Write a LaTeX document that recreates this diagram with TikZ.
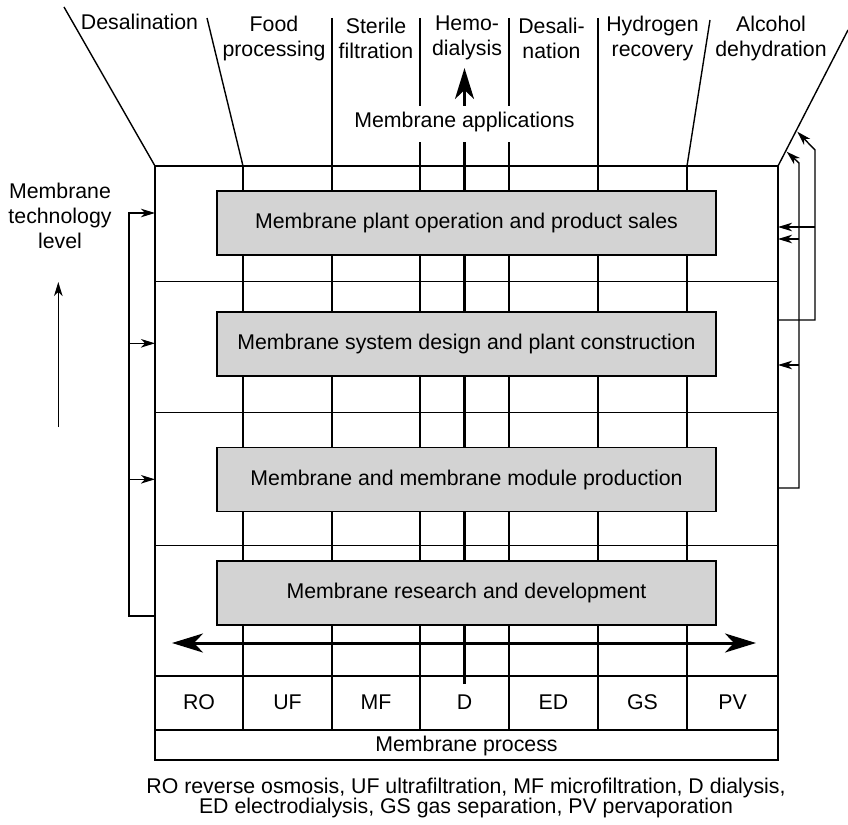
\documentclass[tikz,border=0pt]{standalone}
\usepackage{fontspec}
\setmainfont{Liberation Sans}
\usetikzlibrary{arrows.meta}
\definecolor{boxgray}{RGB}{211,211,211}
\tikzset{
  thinl/.style={line width=1.4pt},
  thickl/.style={line width=3pt},
  bighead/.tip={Stealth[length=31pt,width=19pt,inset=9pt]},
  smallhead/.tip={Stealth[length=14pt,width=8.5pt,inset=4pt]},
  lbl/.style={inner sep=0pt, align=center, font=\fontsize{21.3}{25}\selectfont},
  box/.style={lbl, draw, line width=1.4pt, fill=boxgray, minimum width=499pt, minimum height=64pt},
}
\begin{document}
\begin{tikzpicture}[x=1pt,y=-1pt]
\useasboundingbox (0,0) rectangle (848,824);
% named corner points
\coordinate (ftl) at (155,166);
\coordinate (fbr) at (778,760);
% frame and grid
\draw[thinl] (ftl) rectangle (fbr);
\foreach \y in {281.5,412.3,545.7,676,730} \draw[thinl] (155,\y) -- (778,\y);
\foreach \x in {243,332,598,687} \draw[thinl] (\x,166) -- (\x,730);
\foreach \x in {420,509} \draw[thinl] (\x,142) -- (\x,730);
% lines above the frame
\draw[thinl] (64,7) -- (155,166);
\draw[thinl] (207,18) -- (243,166);
\draw[thinl] (332,18) -- (332,166);
\draw[thinl] (420,18) -- (420,106);
\draw[thinl] (509,18) -- (509,106);
\draw[thinl] (598,18) -- (598,166);
\draw[thinl] (710,20) -- (687,166);
\draw[thinl] (848,30) -- (778,166);
% central axis (membrane applications)
\draw[thickl] (464.5,684) -- (464.5,142);
\draw[thickl,-bighead] (464.5,106) -- (464.5,68);
% boxes
\node[box] (b1) at (466.5,222.8) {Membrane plant operation and product sales};
\node[box] (b2) at (466.5,343.8) {Membrane system design and plant construction};
\node[box] (b3) at (466.5,479.5) {Membrane and membrane module production};
\node[box] (b4) at (466.5,592.8) {Membrane research and development};
% membrane process axis
\coordinate (pl) at (172,643);
\coordinate (pr) at (756,643);
\draw[thickl,bighead-bighead] (pl) -- (pr);
% top labels
\node[lbl] (t1) at (139.5,22) {Desalination};
\node[lbl] (t2) at (274,38) {Food\\processing};
\node[lbl] (t3) at (376,38) {Sterile\\filtration};
\node[lbl] (t4) at (467,38) {Hemo-\\dialysis};
\node[lbl] (t5) at (551.5,38) {Desali-\\nation};
\node[lbl] (t6) at (652.5,38) {Hydrogen\\recovery};
\node[lbl] (t7) at (771,38) {Alcohol\\dehydration};
\node[lbl] (ma) at (464.5,122) {Membrane applications};
% process labels
\node[lbl] (ro) at (199,702) {RO};
\node[lbl] (uf) at (287.5,702) {UF};
\node[lbl] (mf) at (376,702) {MF};
\node[lbl] (d)  at (464.5,702) {D};
\node[lbl] (ed) at (553.5,702) {ED};
\node[lbl] (gs) at (642.5,702) {GS};
\node[lbl] (pv) at (732.5,702) {PV};
\node[lbl] (mp) at (466.5,746) {Membrane process};
\node[lbl, font=\fontsize{21.3}{20}\selectfont] (cap) at (466,798)
  {RO reverse osmosis, UF ultrafiltration, MF microfiltration, D dialysis,\\
   ED electrodialysis, GS gas separation, PV pervaporation};
% technology level
\node[lbl] (tl) at (60,216) {Membrane\\technology\\level};
\coordinate (tla) at (58.3,427);
\coordinate (tlb) at (58.3,282);
\draw[thinl,-smallhead] (tla) -- (tlb);
% left feedback bracket
\coordinate (l0) at (155,616);
\coordinate (l1) at (155,213);
\coordinate (l2) at (155,343.3);
\coordinate (l3) at (155,479.3);
\draw[thinl,-smallhead] (l0) -- (129,616) -- (129,213) -- (l1);
\draw[thinl,-smallhead] (129,343.3) -- (l2);
\draw[thinl,-smallhead] (129,479.3) -- (l3);
% right feedback brackets
\coordinate (ro1) at (778,320);
\coordinate (rt1) at (797.3,131.7);
\coordinate (ri1) at (778,227);
\draw[thinl,-smallhead] (ro1) -- (815,320) -- (815,150) -- (rt1);
\draw[thinl,-smallhead] (815,227) -- (ri1);
\coordinate (ro2) at (778,488);
\coordinate (rt2) at (786.7,151.7);
\coordinate (ri2) at (778,239);
\coordinate (ri3) at (778,365);
\draw[thinl,-smallhead] (ro2) -- (799,488) -- (799,163) -- (rt2);
\draw[thinl,-smallhead] (799,239) -- (ri2);
\draw[thinl,-smallhead] (799,365) -- (ri3);
\end{tikzpicture}
\end{document}
